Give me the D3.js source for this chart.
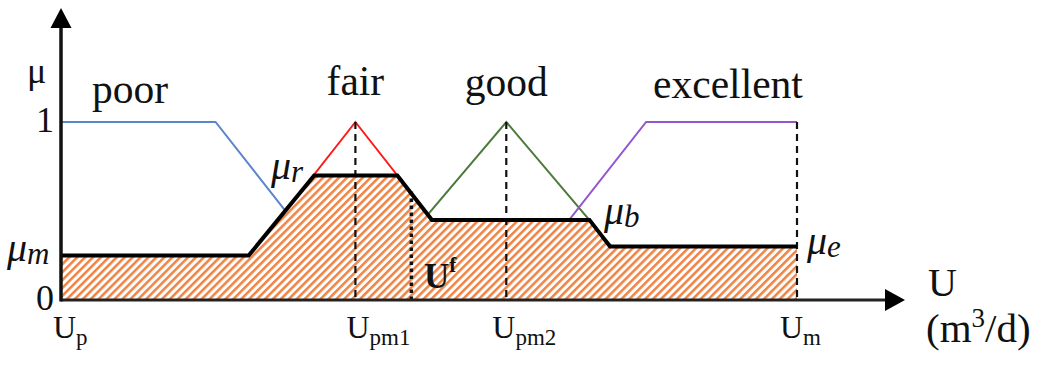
<!DOCTYPE html>
<html>
<head>
<meta charset="utf-8">
<script src="https://cdn.jsdelivr.net/npm/d3@7"></script>
<style>
  html, body { margin: 0; padding: 0; background: #fff; }
  svg { display: block; }
</style>
</head>
<body>
<svg id="chart" width="1043" height="370" font-family="'Liberation Serif', Tinos, 'DejaVu Serif', serif"></svg>
<script>
// ---- data (U in relative units: Up = 0, Um = 100; membership μ in [0,1]) ----
const setNames = ["poor", "fair", "good", "excellent"];
const poorU = [0, 21, 40];
const poorMu = [1, 1, 0];
const fairU = [21, 40, 59];
const fairMu = [0, 1, 0];
const goodU = [40, 60.5, 81];
const goodMu = [0, 1, 0];
const excellentU = [60.5, 79.5, 100];
const excellentMu = [0, 1, 1];
// aggregated (clipped) output outline
const aggU = [0, 25.5, 34.4, 45.7, 50.4, 71.8, 74.6, 100];
const aggMu = [0.25, 0.25, 0.70, 0.70, 0.45, 0.45, 0.30, 0.30];
// x tick labels
const xTickValues = [0, 40, 60.5, 100];
const xTickMain = ["U", "U", "U", "U"];
const xTickSub = ["p", "pm1", "pm2", "m"];
// y tick labels
const yTickValues = [0, 1];
const yTickLabels = ["0", "1"];
// defuzzified value
const ufU = 47.6;
const ufMu = 0.61;
// membership-degree labels
const muLabelSub = ["m", "r", "b", "e"];

// ---- layout ----
const svg = d3.select("#chart");
const x = d3.scaleLinear().domain([0, 100]).range([61, 797]);
const y = d3.scaleLinear().domain([0, 1]).range([300, 122]);
const colors = { poor: "#5b86cc", fair: "#ff1a1a", good: "#4d7a3a", excellent: "#9257cf" };

// hatch pattern
const defs = svg.append("defs");
const P = 5.6;
const pat = defs.append("pattern")
  .attr("id", "hatch").attr("patternUnits", "userSpaceOnUse")
  .attr("width", P).attr("height", P)
  .attr("patternTransform", "rotate(45)");
pat.append("rect").attr("width", P).attr("height", P).attr("fill", "#fff");
pat.append("line").attr("x1", 1.3).attr("y1", 0).attr("x2", 1.3).attr("y2", P)
  .attr("stroke", "#ef8140").attr("stroke-width", 2.5);

const line = d3.line().x(d => x(d[0])).y(d => y(d[1]));
const zip = (a, b) => a.map((v, i) => [v, b[i]]);

// membership functions
const sets = [
  ["poor", zip(poorU, poorMu)],
  ["fair", zip(fairU, fairMu)],
  ["good", zip(goodU, goodMu)],
  ["excellent", zip(excellentU, excellentMu)]
];
svg.append("g").selectAll("path").data(sets).join("path")
  .attr("d", d => line(d[1]))
  .attr("fill", "none")
  .attr("stroke", d => colors[d[0]])
  .attr("stroke-width", 2);

// hatched aggregated area
const aggPts = zip(aggU, aggMu);
const area = d3.area().x(d => x(d[0])).y0(y(0)).y1(d => y(d[1]));
svg.append("path").attr("d", area(aggPts)).attr("fill", "url(#hatch)");

// dashed verticals
const dashedAt = [xTickValues[1], xTickValues[2], xTickValues[3]];
svg.append("g").selectAll("line").data(dashedAt).join("line")
  .attr("x1", d => x(d)).attr("x2", d => x(d))
  .attr("y1", y(1)).attr("y2", y(0))
  .attr("stroke", "#111").attr("stroke-width", 2.2)
  .attr("stroke-dasharray", "7,5");

// dotted line at Uf
svg.append("line")
  .attr("x1", x(ufU)).attr("x2", x(ufU))
  .attr("y1", y(ufMu)).attr("y2", y(0))
  .attr("stroke", "#111").attr("stroke-width", 3.5)
  .attr("stroke-dasharray", "3.5,3.5");

// aggregated outline
svg.append("path").attr("d", line(aggPts))
  .attr("fill", "none").attr("stroke", "#000").attr("stroke-width", 4)
  .attr("stroke-linejoin", "miter");

// axes with arrows
svg.append("line").attr("x1", x(0)).attr("x2", 887).attr("y1", y(0)).attr("y2", y(0))
  .attr("stroke", "#222").attr("stroke-width", 3);
svg.append("path").attr("d", `M905,${y(0)} L885,${y(0) - 11} L885,${y(0) + 11} Z`).attr("fill", "#000");
svg.append("line").attr("x1", x(0)).attr("x2", x(0)).attr("y1", y(0) + 1.5).attr("y2", 26)
  .attr("stroke", "#111").attr("stroke-width", 3.5);
svg.append("path").attr("d", `M${x(0)},8 L${x(0) - 10.5},28 L${x(0) + 10.5},28 Z`).attr("fill", "#000");

// y labels
svg.append("text").attr("x", 27).attr("y", 83).attr("font-size", 36).attr("fill", "#111").text("μ");
svg.append("g").selectAll("text").data(yTickValues).join("text")
  .attr("x", 54).attr("y", d => y(d) + 10).attr("text-anchor", "end")
  .attr("font-size", 36).attr("fill", "#111").text((d, i) => yTickLabels[i]);

// set names
const nameX = [130, x(40), x(60.5), 728];
const nameY = [103, 95, 96, 98];
svg.append("g").selectAll("text").data(setNames).join("text")
  .attr("x", (d, i) => nameX[i]).attr("y", (d, i) => nameY[i])
  .attr("text-anchor", "middle").attr("font-size", 41.5).attr("fill", "#111").text(d => d);

// x tick labels
const tickDx = [-8, -9, -14, -17];
const tg = svg.append("g").selectAll("text").data(xTickValues).join("text")
  .attr("x", (d, i) => x(d) + tickDx[i]).attr("y", 338).attr("font-size", 32).attr("fill", "#111");
tg.append("tspan").text((d, i) => xTickMain[i]);
tg.append("tspan").attr("font-size", 23).attr("dy", 7).text((d, i) => xTickSub[i]);

// axis title
svg.append("text").attr("x", 928).attr("y", 296).attr("font-size", 40).attr("fill", "#111").text("U");
const unit = svg.append("text").attr("x", 926).attr("y", 342).attr("font-size", 41).attr("fill", "#111");
unit.append("tspan").text("(m");
unit.append("tspan").attr("font-size", 27).attr("dy", -15).text("3");
unit.append("tspan").attr("dy", 15).text("/d)");

// mu labels
const muPos = [[7, 261], [271, 179], [604, 224], [807, 254]];
const mg = svg.append("g").selectAll("text").data(muLabelSub).join("text")
  .attr("x", (d, i) => muPos[i][0]).attr("y", (d, i) => muPos[i][1])
  .attr("font-style", "italic").attr("font-size", 40).attr("fill", "#111");
mg.append("tspan").text("μ");
mg.append("tspan").attr("font-size", 31).attr("dy", 3).text(d => d);

// Uf label
const uf = svg.append("text").attr("x", 424).attr("y", 288).attr("font-size", 35)
  .attr("font-weight", "bold").attr("fill", "#111");
uf.append("tspan").text("U");
uf.append("tspan").attr("font-size", 21).attr("dy", -16).text("f");
</script>
</body>
</html>
